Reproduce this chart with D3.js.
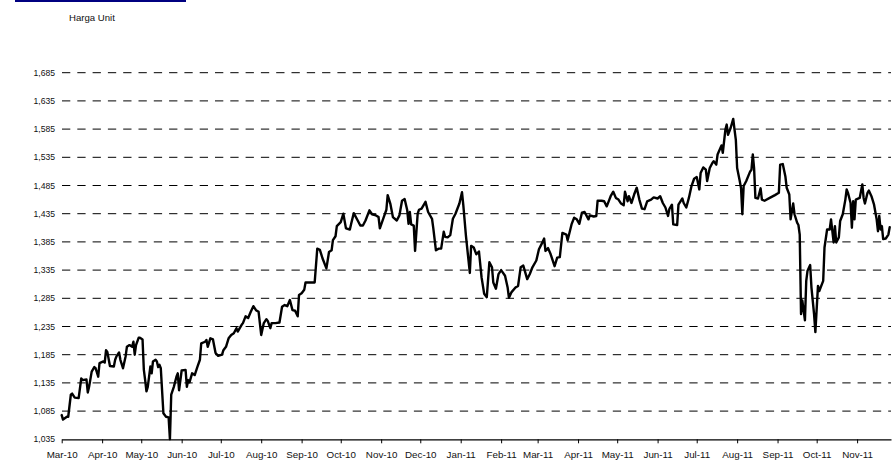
<!DOCTYPE html>
<html>
<head>
<meta charset="utf-8">
<script src="https://cdn.jsdelivr.net/npm/d3@7"></script>
<style>
  html, body { margin: 0; padding: 0; background: #fff; }
  svg { display: block; font-family: "Liberation Sans", Arial, sans-serif; }
</style>
</head>
<body>
<svg id="chart" width="896" height="461"></svg>
<script>
const title = "Harga Unit";

const yTicks = [1035, 1085, 1135, 1185, 1235, 1285, 1335, 1385, 1435, 1485, 1535, 1585, 1635, 1685];

const monthTicks = ["2010-03-01","2010-04-01","2010-05-01","2010-06-01","2010-07-01","2010-08-01","2010-09-01",
  "2010-10-01","2010-11-01","2010-12-01","2011-01-01","2011-02-01","2011-03-01","2011-04-01","2011-05-01",
  "2011-06-01","2011-07-01","2011-08-01","2011-09-01","2011-10-01","2011-11-01"];

const dates = [
  "2010-03-01","2010-03-02","2010-03-05","2010-03-06","2010-03-08","2010-03-09","2010-03-11","2010-03-14","2010-03-16","2010-03-17",
  "2010-03-20","2010-03-21","2010-03-22","2010-03-24","2010-03-26","2010-03-27","2010-03-29","2010-03-30",
  "2010-04-02","2010-04-03","2010-04-04","2010-04-05","2010-04-07","2010-04-10","2010-04-11","2010-04-12","2010-04-14","2010-04-15",
  "2010-04-17","2010-04-19","2010-04-20","2010-04-22","2010-04-24","2010-04-25","2010-04-26","2010-04-27","2010-04-29","2010-04-30",
  "2010-05-02","2010-05-03","2010-05-04","2010-05-05","2010-05-06","2010-05-08","2010-05-09","2010-05-10","2010-05-12","2010-05-13",
  "2010-05-14","2010-05-15","2010-05-16","2010-05-18","2010-05-20","2010-05-22","2010-05-23","2010-05-24","2010-05-26","2010-05-28",
  "2010-05-29","2010-05-30",
  "2010-06-01","2010-06-04","2010-06-05","2010-06-06","2010-06-07","2010-06-09","2010-06-11","2010-06-13","2010-06-15","2010-06-16",
  "2010-06-19","2010-06-20","2010-06-21","2010-06-23","2010-06-25","2010-06-27","2010-06-29",
  "2010-07-02","2010-07-03","2010-07-05","2010-07-07","2010-07-09","2010-07-11","2010-07-13","2010-07-14","2010-07-17","2010-07-18",
  "2010-07-20","2010-07-22","2010-07-24","2010-07-26","2010-07-28","2010-07-30",
  "2010-08-01","2010-08-03","2010-08-05","2010-08-06","2010-08-08","2010-08-09","2010-08-12","2010-08-15","2010-08-17","2010-08-19",
  "2010-08-21","2010-08-23","2010-08-25","2010-08-27","2010-08-29","2010-08-30",
  "2010-09-01","2010-09-03","2010-09-04","2010-09-11","2010-09-13","2010-09-15","2010-09-17","2010-09-20","2010-09-22","2010-09-24",
  "2010-09-25","2010-09-27","2010-09-28",
  "2010-10-01","2010-10-03","2010-10-05","2010-10-08","2010-10-09","2010-10-11","2010-10-14","2010-10-16","2010-10-18","2010-10-20",
  "2010-10-23","2010-10-25","2010-10-28","2010-10-30","2010-10-31",
  "2010-11-03","2010-11-05","2010-11-06","2010-11-08","2010-11-10","2010-11-13","2010-11-15","2010-11-17","2010-11-19","2010-11-21",
  "2010-11-22","2010-11-23","2010-11-24","2010-11-26","2010-11-27","2010-11-29","2010-11-30",
  "2010-12-02","2010-12-05","2010-12-07","2010-12-10","2010-12-11","2010-12-13","2010-12-15","2010-12-17","2010-12-19","2010-12-20",
  "2010-12-22","2010-12-24","2010-12-26","2010-12-28","2010-12-31",
  "2011-01-02","2011-01-03","2011-01-05","2011-01-08","2011-01-09","2011-01-11","2011-01-13","2011-01-15","2011-01-17","2011-01-19",
  "2011-01-21","2011-01-23","2011-01-25","2011-01-26","2011-01-28","2011-01-30",
  "2011-02-01","2011-02-04","2011-02-06","2011-02-07","2011-02-09","2011-02-12","2011-02-14","2011-02-16","2011-02-18","2011-02-21",
  "2011-02-23","2011-02-25","2011-02-28",
  "2011-03-02","2011-03-04","2011-03-06","2011-03-07","2011-03-09","2011-03-11","2011-03-14","2011-03-16","2011-03-18","2011-03-20",
  "2011-03-23","2011-03-24","2011-03-27","2011-03-29","2011-03-31",
  "2011-04-02","2011-04-04","2011-04-06","2011-04-09","2011-04-10","2011-04-13","2011-04-15","2011-04-16","2011-04-19","2011-04-21",
  "2011-04-23","2011-04-25","2011-04-26","2011-04-28","2011-04-30",
  "2011-05-02","2011-05-04","2011-05-06","2011-05-07","2011-05-09","2011-05-10","2011-05-12","2011-05-14","2011-05-16","2011-05-18",
  "2011-05-20","2011-05-22","2011-05-24","2011-05-27","2011-05-29",
  "2011-06-01","2011-06-03","2011-06-05","2011-06-07","2011-06-09","2011-06-10","2011-06-12","2011-06-13","2011-06-16","2011-06-17",
  "2011-06-20","2011-06-21","2011-06-23","2011-06-25","2011-06-27","2011-06-29",
  "2011-07-01","2011-07-03","2011-07-04","2011-07-06","2011-07-08","2011-07-09","2011-07-11","2011-07-13","2011-07-14","2011-07-16",
  "2011-07-17","2011-07-20","2011-07-21","2011-07-23","2011-07-24","2011-07-25","2011-07-27","2011-07-29","2011-07-30","2011-07-31",
  "2011-08-01","2011-08-03","2011-08-04","2011-08-05","2011-08-06","2011-08-08","2011-08-11","2011-08-12","2011-08-13","2011-08-14",
  "2011-08-15","2011-08-17","2011-08-19","2011-08-20","2011-08-22","2011-08-26","2011-08-30",
  "2011-09-02","2011-09-03","2011-09-05","2011-09-07","2011-09-08","2011-09-10","2011-09-11","2011-09-13","2011-09-14","2011-09-16",
  "2011-09-17","2011-09-18","2011-09-19","2011-09-20","2011-09-22","2011-09-23","2011-09-24","2011-09-26","2011-09-27","2011-09-29",
  "2011-09-30",
  "2011-10-02","2011-10-03","2011-10-06","2011-10-07","2011-10-09","2011-10-11","2011-10-12","2011-10-14","2011-10-15","2011-10-16",
  "2011-10-18","2011-10-19","2011-10-21","2011-10-23","2011-10-24","2011-10-25","2011-10-27","2011-10-28","2011-10-29","2011-10-30",
  "2011-10-31",
  "2011-11-03","2011-11-05","2011-11-06","2011-11-07","2011-11-09","2011-11-10","2011-11-12","2011-11-14","2011-11-16","2011-11-17",
  "2011-11-18","2011-11-19","2011-11-20","2011-11-21","2011-11-23","2011-11-25","2011-11-26"
];

const values = [
  1078,1070,1075,1075,1114,1116,1109,1108,1143,1140,
  1141,1118,1128,1155,1163,1161,1146,1170,
  1173,1171,1193,1190,1165,1164,1176,1182,1189,1176,
  1161,1182,1199,1202,1199,1208,1185,1202,1215,1215,
  1212,1158,1140,1120,1128,1164,1152,1173,1176,1173,
  1163,1167,1161,1081,1075,1074,1035,1114,1128,1146,
  1152,1122,
  1157,1158,1128,1140,1136,1152,1149,1163,1176,1205,
  1208,1211,1199,1214,1212,1188,1183,
  1185,1193,1199,1214,1220,1223,1232,1226,1238,1241,
  1253,1250,1261,1271,1264,1261,
  1220,1241,1248,1245,1232,1241,1241,1242,1270,1273,
  1271,1282,1264,1263,1253,1291,
  1294,1300,1313,1313,1373,1371,1356,1338,1367,1370,
  1388,1395,1413,
  1420,1435,1409,1407,1417,1436,1423,1414,1414,1423,
  1441,1434,1432,1429,1409,
  1429,1442,1468,1453,1429,1423,1432,1458,1461,1441,
  1417,1438,1416,1414,1369,1435,1442,
  1444,1456,1438,1426,1409,1370,1373,1373,1403,1394,
  1393,1397,1426,1435,1453,
  1473,1450,1396,1330,1378,1375,1363,1368,1322,1293,
  1287,1349,1340,1313,1302,1328,
  1335,1325,1304,1286,1296,1304,1307,1340,1343,1319,
  1328,1340,1352,
  1372,1381,1391,1369,1374,1363,1342,1357,1358,1401,
  1398,1388,1416,1428,1425,
  1417,1437,1438,1425,1432,1430,1431,1458,1458,1457,
  1448,1460,1466,1474,1463,
  1460,1453,1450,1474,1457,1466,1454,1469,1481,1460,
  1444,1443,1457,1460,1464,
  1462,1466,1454,1446,1431,1443,1451,1416,1415,1451,
  1462,1454,1446,1463,1484,1497,
  1500,1478,1507,1517,1513,1493,1516,1525,1528,1522,
  1540,1556,1543,1584,1593,1575,1587,1603,1584,1566,
  1516,1493,1480,1434,1484,1493,1510,1513,1540,1516,
  1463,1462,1480,1460,1458,1463,1468,
  1472,1522,1523,1501,1481,1469,1425,1453,1434,1419,
  1415,1398,1257,1281,1246,1316,1334,1344,1304,1257,
  1225,
  1307,1298,1316,1375,1407,1407,1425,1384,1413,1384,
  1393,1422,1434,1460,1478,1472,1454,1410,1457,1425,
  1460,
  1463,1487,1463,1453,1472,1476,1466,1451,1425,1404,
  1431,1407,1413,1390,1391,1398,1411
];

const xStart = "2010-03-01";
const xEnd = "2011-11-27";

const parse = d3.timeParse("%Y-%m-%d");
const data = dates.map((d, i) => ({ date: parse(d), value: values[i] }));

const svg = d3.select("#chart");

// header bar and label
svg.append("rect").attr("x", 15).attr("y", 0).attr("width", 171).attr("height", 2).attr("fill", "#000080");
svg.append("text").attr("x", 69).attr("y", 21).attr("font-size", "9.6px").attr("fill", "#111").text(title);

const x = d3.scaleTime().domain([parse(xStart), parse(xEnd)]).range([61.7, 891]);
const y = d3.scaleLinear().domain([1035, 1685]).range([439.3, 72.7]);

// grid lines (dashed)
svg.append("g").selectAll("line").data(yTicks.filter(t => t > 1035)).join("line")
  .attr("x1", 62).attr("x2", 891)
  .attr("y1", d => y(d)).attr("y2", d => y(d))
  .attr("stroke", "#000").attr("stroke-width", 1)
  .attr("stroke-dasharray", "8.3,7");

// y labels
const fmt = d3.format(",");
svg.append("g").selectAll("text").data(yTicks).join("text")
  .attr("x", 55).attr("y", d => y(d)).attr("dy", "0.35em")
  .attr("text-anchor", "end").attr("font-size", "8.6px").attr("fill", "#111")
  .text(d => fmt(d));

// x axis
const xAxis = d3.axisBottom(x)
  .tickValues(monthTicks.map(parse))
  .tickFormat(d3.timeFormat("%b-%y"))
  .tickSize(4).tickSizeOuter(0).tickPadding(8);
const gx = svg.append("g").attr("transform", `translate(0,${y(1035)})`).call(xAxis);
gx.select(".domain").attr("stroke", "#000").attr("stroke-width", 1.3);
gx.selectAll(".tick line").attr("stroke", "#000").attr("stroke-width", 1);
gx.selectAll(".tick text").attr("font-size", "9.8px").attr("fill", "#111")
  .attr("font-family", "'Liberation Sans', Arial, sans-serif");

// line
const line = d3.line().x(d => x(d.date)).y(d => y(d.value));
svg.append("path").datum(data)
  .attr("fill", "none").attr("stroke", "#000").attr("stroke-width", 2.4)
  .attr("stroke-linejoin", "round").attr("stroke-linecap", "round")
  .attr("d", line);
</script>
</body>
</html>
